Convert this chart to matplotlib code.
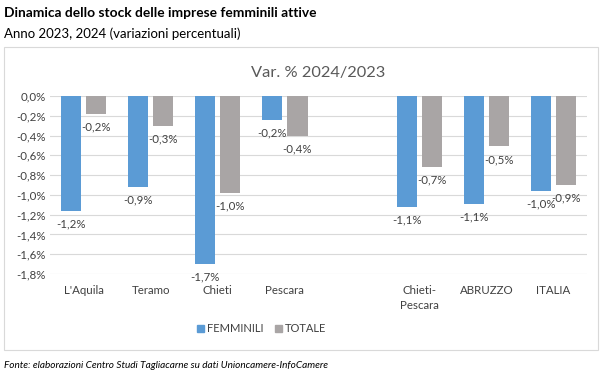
import matplotlib.pyplot as plt
import matplotlib.patches as mpatches
import numpy as np

plt.rcParams["font.family"] = ["Lato", "DejaVu Sans"]

categories = ["L'Aquila", "Teramo", "Chieti", "Pescara", "", "Chieti-\nPescara", "ABRUZZO", "ITALIA"]
femminili = [-1.16, -0.92, -1.70, -0.24, np.nan, -1.12, -1.09, -0.96]
totale = [-0.18, -0.30, -0.98, -0.40, np.nan, -0.72, -0.51, -0.90]
yticks = np.arange(0, -1.81, -0.2)

BLUE = "#5B9BD5"
GREY = "#A9A5A5"
TEXT = "#404040"

fig = plt.figure(figsize=(6.06, 3.74), dpi=100)
ax = fig.add_axes([0.0825, 0.2674, 0.8861, 0.4759])

x = np.arange(len(categories))
w = 0.3
gap = 0.075
b1 = ax.bar(x - (w + gap) / 2, femminili, w, color=BLUE, zorder=3)
b2 = ax.bar(x + (w + gap) / 2, totale, w, color=GREY, zorder=3)

def fmt(v):
    return f"{v:.1f}%".replace(".", ",")

for bars, vals in ((b1, femminili), (b2, totale)):
    for bar, v in zip(bars, vals):
        if np.isnan(v):
            continue
        ax.annotate(fmt(v), (bar.get_x() + bar.get_width() / 2, v),
                    xytext=(0, -9.5), textcoords="offset points",
                    ha="center", va="center", fontsize=8.3, color=TEXT, zorder=4)

ax.set_xlim(-0.5, len(categories) - 0.5)
ax.set_ylim(-1.8, 0)
ax.set_yticks(yticks)
ax.set_yticklabels([fmt(t + 0.0) for t in yticks], fontsize=8.3, color=TEXT)
ax.set_xticks(x)
ax.set_xticklabels(categories, fontsize=8.3, color=TEXT, linespacing=1.4, va="top")
ax.tick_params(length=0, pad=8)
ax.tick_params(axis="y", pad=3)
ax.grid(axis="y", color="#D9D9D9", linewidth=0.8, zorder=0)
for s in ax.spines.values():
    s.set_visible(False)

ax.set_title("Var. % 2024/2023", fontsize=11.8, color="#595959", pad=14)

# chart frame
fig.patches.append(mpatches.Rectangle((4 / 606, 1 - 350 / 374), 594 / 606, 303 / 374,
                                      transform=fig.transFigure, fill=False,
                                      edgecolor="#D9D9D9", linewidth=0.8))

handles = [mpatches.Patch(color=BLUE, label="FEMMINILI"),
           mpatches.Patch(color=GREY, label="TOTALE")]
fig.legend(handles=handles, loc="center", bbox_to_anchor=(0.432, 1 - 329 / 374),
           ncol=2, frameon=False, fontsize=8, handlelength=0.6, handleheight=0.6,
           handletextpad=0.3, columnspacing=1.0, labelcolor=TEXT)

fig.text(4 / 606, 1 - 13 / 374, "Dinamica dello stock delle imprese femminili attive",
         fontsize=9.9, fontweight="bold", va="center", ha="left")
fig.text(4 / 606, 1 - 34 / 374, "Anno 2023, 2024 (variazioni percentuali)",
         fontsize=9.5, va="center", ha="left")
fig.text(4 / 606, 1 - 365 / 374,
         "Fonte: elaborazioni Centro Studi Tagliacarne su dati Unioncamere-InfoCamere",
         fontsize=7.2, style="italic", va="center", ha="left")

fig.savefig("out.png", dpi=100)
